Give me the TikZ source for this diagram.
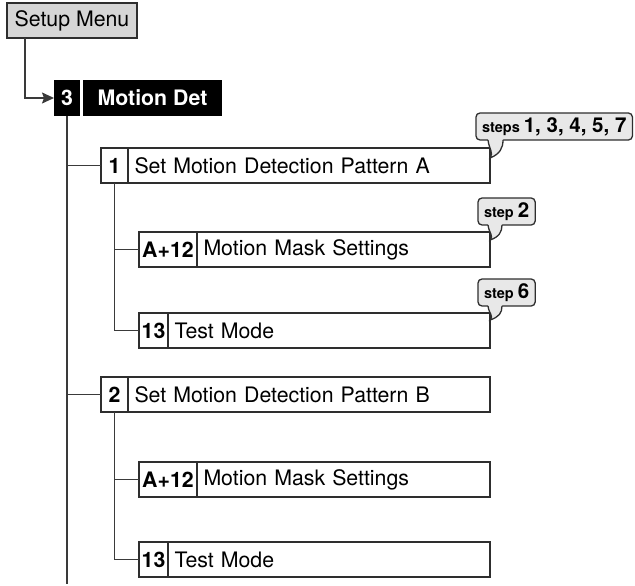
\documentclass[tikz,border=0pt]{standalone}
\usepackage{fontspec}
\setmainfont{TeX Gyre Heros}
\usetikzlibrary{positioning,arrows.meta}

\definecolor{boxline}{HTML}{2E2E2E}
\definecolor{wireline}{HTML}{3A3A3A}
\definecolor{menufill}{HTML}{D6D6D6}
\definecolor{tagfill}{HTML}{E8E8E8}

\newcommand{\cellfont}{\fontsize{21.3}{24}\selectfont}
\newcommand{\tagnumfont}{\fontsize{20.5}{22}\selectfont}

\tikzset{
    menubox/.style={draw=boxline, fill=menufill, minimum width=130pt, minimum height=35pt,
        inner sep=0pt, outer sep=0pt, anchor=north west},
    darkbox/.style={fill=black, text=white, font=\cellfont\bfseries, minimum height=36pt,
        inner sep=0pt, outer sep=0pt, anchor=north west},
    numcell/.style={draw=boxline, font=\cellfont\bfseries, minimum height=35pt, minimum width=27pt,
        inner xsep=2pt, inner ysep=0pt, outer sep=0pt, anchor=north west},
    textcell/.style={draw=boxline, minimum height=35pt, inner xsep=6.5pt, inner ysep=0pt,
        outer sep=0pt, align=left},
    tagbox/.style={draw=boxline, fill=tagfill, rounded corners=4pt, minimum height=27pt,
        inner xsep=6pt, inner ysep=0pt, outer sep=0pt, anchor=north west,
        font=\bfseries\fontsize{14.5}{16}\selectfont},
    wire/.style={draw=wireline, line width=1.4pt},
}

\begin{document}
\begin{tikzpicture}[x=1pt, y=-1pt, font=\cellfont, line width=1.3pt]

    \useasboundingbox (0,0) rectangle (635,586);

    % ==========================================
    % 1. Setup Menu -> Motion Det
    % ==========================================
    \node[menubox] (menu) at (7,3) {Setup Menu};
    \node[darkbox, minimum width=26pt] (det) at (54,80) {3};
    \node[darkbox, minimum width=139pt, right=3pt of det] (detname) {Motion Det};

    \draw[wire, -{Stealth[length=12pt, width=11pt, inset=2pt]}] ([xshift=18pt]menu.south west) |- (det.west);

    \coordinate (trunkend) at (68,584);
    \draw[wire] (det.south) -- (det.south |- trunkend);

    % ==========================================
    % 2. Pattern A
    % ==========================================
    \node[numcell] (pata) at (101,148) {1};
    \node[textcell, text width=349pt, right=0pt of pata] (patatxt) {Set Motion Detection Pattern A};
    \node[numcell, minimum width=58pt] (maska) at (139,232) {A+12};
    \node[textcell, text width=280pt, right=0pt of maska] (maskatxt) {Motion Mask Settings};
    \node[numcell, minimum width=29pt] (testa) at (139,313) {13};
    \node[textcell, text width=309pt, right=0pt of testa] (testatxt) {Test Mode};

    \draw[wire] (det.south |- pata.west) -- (pata.west);
    \draw[wire] (pata.south) |- (testa.west);
    \draw[wire] (pata.south |- maska.west) -- (maska.west);

    % ==========================================
    % 3. Pattern B
    % ==========================================
    \node[numcell] (patb) at (101,377) {2};
    \node[textcell, text width=349pt, right=0pt of patb] (patbtxt) {Set Motion Detection Pattern B};
    \node[numcell, minimum width=58pt] (maskb) at (139,462) {A+12};
    \node[textcell, text width=280pt, right=0pt of maskb] (maskbtxt) {Motion Mask Settings};
    \node[numcell, minimum width=29pt] (testb) at (139,542) {13};
    \node[textcell, text width=309pt, right=0pt of testb] (testbtxt) {Test Mode};

    \draw[wire] (det.south |- patb.west) -- (patb.west);
    \draw[wire] (patb.south) |- (testb.west);
    \draw[wire] (patb.south |- maskb.west) -- (maskb.west);

    % ==========================================
    % 4. Step tags
    % ==========================================
    \node[tagbox] (tagsa) at (476,113) {steps {\tagnumfont 1, 3, 4, 5, 7}};
    \node[tagbox] (tagmask) at (478,198) {step {\tagnumfont 2}};
    \node[tagbox] (tagtest) at (478,279) {step {\tagnumfont 6}};

    \coordinate (tipsa) at ([yshift=-10pt]patatxt.north east);
    \coordinate (tipmask) at ([yshift=-8pt]maskatxt.north east);
    \coordinate (tiptest) at ([yshift=-7pt]testatxt.north east);

    \fill[tagfill] ([xshift=12pt, yshift=1.5pt]tagsa.south west) -- ([xshift=12pt]tagsa.south west)
        .. controls +(1,9) and +(4,-5) .. (tipsa)
        .. controls +(10,-4) and +(0,8) .. ([xshift=27pt]tagsa.south west)
        -- ([xshift=27pt, yshift=1.5pt]tagsa.south west) -- cycle;
    \draw[boxline] ([xshift=12pt]tagsa.south west)
        .. controls +(1,9) and +(4,-5) .. (tipsa)
        .. controls +(10,-4) and +(0,8) .. ([xshift=27pt]tagsa.south west);

    \fill[tagfill] ([xshift=10pt, yshift=1.5pt]tagmask.south west) -- ([xshift=10pt]tagmask.south west)
        .. controls +(1,8) and +(4,-4) .. (tipmask)
        .. controls +(9,-3) and +(0,7) .. ([xshift=24pt]tagmask.south west)
        -- ([xshift=24pt, yshift=1.5pt]tagmask.south west) -- cycle;
    \draw[boxline] ([xshift=10pt]tagmask.south west)
        .. controls +(1,8) and +(4,-4) .. (tipmask)
        .. controls +(9,-3) and +(0,7) .. ([xshift=24pt]tagmask.south west);

    \fill[tagfill] ([xshift=10pt, yshift=1.5pt]tagtest.south west) -- ([xshift=10pt]tagtest.south west)
        .. controls +(1,8) and +(4,-4) .. (tiptest)
        .. controls +(9,-3) and +(0,7) .. ([xshift=24pt]tagtest.south west)
        -- ([xshift=24pt, yshift=1.5pt]tagtest.south west) -- cycle;
    \draw[boxline] ([xshift=10pt]tagtest.south west)
        .. controls +(1,8) and +(4,-4) .. (tiptest)
        .. controls +(9,-3) and +(0,7) .. ([xshift=24pt]tagtest.south west);

\end{tikzpicture}
\end{document}
